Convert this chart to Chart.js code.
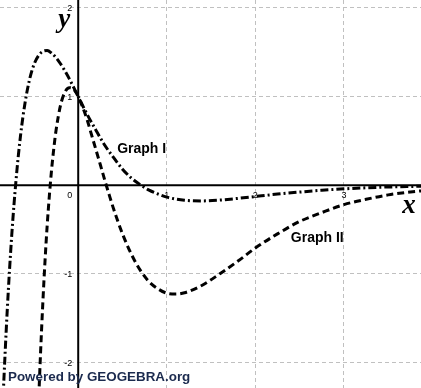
<!DOCTYPE html>
<html>
<head>
<meta charset="utf-8">
<script src="https://cdn.jsdelivr.net/npm/chart.js@4.4.0/dist/chart.umd.min.js"></script>
<style>
html,body{margin:0;padding:0;background:#fff;}
#wrap{width:421px;height:388px;}
</style>
</head>
<body>
<div id="wrap"><canvas id="c" width="421" height="388"></canvas></div>
<script>
// Graph I (dash-dot)
const xs1 = [-0.87,-0.85,-0.8,-0.75,-0.7,-0.65,-0.6,-0.55,-0.5,-0.45,-0.4,-0.35,-0.3,-0.25,-0.2,-0.15,-0.1,-0.05,0,0.1,0.2,0.3,0.4,0.5,0.6,0.7,0.8,0.9,1.0,1.2,1.4,1.6,1.8,2.0,2.25,2.5,2.75,3.0,3.25,3.5,3.75,3.9];
const ys1 = [-2.93,-2.44,-1.39,-0.56,0.08,0.57,0.93,1.19,1.36,1.46,1.51,1.52,1.49,1.44,1.37,1.29,1.20,1.10,1.0,0.80,0.62,0.45,0.31,0.18,0.08,0.005,-0.057,-0.10,-0.135,-0.171,-0.178,-0.168,-0.150,-0.128,-0.101,-0.078,-0.058,-0.042,-0.030,-0.021,-0.015,-0.012];
// Graph II (dashed)
const xs2 = [-0.45,-0.425,-0.4,-0.375,-0.35,-0.325,-0.3,-0.275,-0.25,-0.2,-0.15,-0.1,-0.05,0,0.05,0.1,0.15,0.2,0.25,0.3,0.35,0.4,0.5,0.6,0.7,0.8,0.9,1.0,1.1,1.2,1.4,1.6,1.8,2.0,2.25,2.5,2.75,3.0,3.25,3.5,3.75,3.9];
const ys2 = [-2.52,-1.89,-1.34,-0.86,-0.45,-0.11,0.18,0.42,0.62,0.90,1.05,1.10,1.08,1.0,0.88,0.74,0.57,0.40,0.23,0.055,-0.11,-0.27,-0.55,-0.78,-0.96,-1.09,-1.17,-1.22,-1.23,-1.215,-1.13,-1.0,-0.86,-0.71,-0.55,-0.41,-0.31,-0.22,-0.16,-0.11,-0.077,-0.062];
const xTicks = [1,2,3];
const yTicks = [-2,-1,1,2];
const xRange = [-0.883, 3.87];
const yRange = [-2.29, 2.09];
const labels = {g1:'Graph I', g2:'Graph II', x:'x', y:'y', credit:'Powered by GEOGEBRA.org'};

const toPts = (xs, ys) => xs.map((x,i)=>({x:x, y:ys[i]}));

const overlay = {
  id:'overlay',
  beforeDatasetsDraw(chart){
    const {ctx, chartArea:a, scales:{x, y}} = chart;
    const x0 = x.getPixelForValue(0), y0 = y.getPixelForValue(0);
    ctx.save();
    ctx.strokeStyle = '#000'; ctx.lineWidth = 2; ctx.setLineDash([]);
    ctx.beginPath(); ctx.moveTo(a.left, y0); ctx.lineTo(a.right, y0); ctx.stroke();
    ctx.beginPath(); ctx.moveTo(x0, a.top); ctx.lineTo(x0, a.bottom); ctx.stroke();
    ctx.restore();
  },
  afterDraw(chart){
    const {ctx, scales:{x, y}} = chart;
    const x0 = x.getPixelForValue(0), y0 = y.getPixelForValue(0);
    ctx.save();
    ctx.fillStyle = '#000';
    ctx.font = '9px "Liberation Sans", Arial, sans-serif';
    ctx.textBaseline = 'middle';
    ctx.textAlign = 'center';
    xTicks.forEach(v => ctx.fillText(String(v), x.getPixelForValue(v), y0 + 10));
    ctx.textAlign = 'right';
    yTicks.forEach(v => ctx.fillText(String(v), x0 - 6, y.getPixelForValue(v) + 1));
    ctx.fillText('0', x0 - 6, y0 + 10);
    // curve labels
    ctx.font = 'bold 14px "Liberation Sans", Arial, sans-serif';
    ctx.textAlign = 'left'; ctx.textBaseline = 'alphabetic';
    ctx.fillText(labels.g1, x.getPixelForValue(0.44), y.getPixelForValue(0.36));
    ctx.fillText(labels.g2, x.getPixelForValue(2.4), y.getPixelForValue(-0.64));
    // axis names
    ctx.font = 'italic bold 27px "Liberation Serif", "Times New Roman", serif';
    ctx.textAlign = 'center';
    ctx.fillText(labels.y, x0 - 14, 27);
    ctx.fillText(labels.x, chart.chartArea.right - 12, y0 + 28);
    // credit
    ctx.font = 'bold 13.4px "Liberation Sans", Arial, sans-serif';
    ctx.fillStyle = '#1b2a4e';
    ctx.textAlign = 'left';
    ctx.fillText(labels.credit, 8, 381);
    ctx.restore();
  }
};

new Chart(document.getElementById('c'), {
  type:'scatter',
  data:{datasets:[
    {label:labels.g1, data:toPts(xs1, ys1), showLine:true, borderColor:'#000', borderWidth:3,
     borderDash:[8,3,2,3], pointRadius:0, cubicInterpolationMode:'monotone', fill:false},
    {label:labels.g2, data:toPts(xs2, ys2), showLine:true, borderColor:'#000', borderWidth:3,
     borderDash:[7,4], pointRadius:0, cubicInterpolationMode:'monotone', fill:false}
  ]},
  options:{
    responsive:false, animation:false, devicePixelRatio:1,
    layout:{padding:0},
    plugins:{legend:{display:false}, tooltip:{enabled:false}},
    scales:{
      x:{type:'linear', min:xRange[0], max:xRange[1],
         ticks:{display:false, stepSize:1},
         afterBuildTicks(s){ s.ticks = xTicks.map(v=>({value:v})); },
         grid:{color:'#c0c0c0', lineWidth:1, drawTicks:false},
         border:{display:false, dash:[4,3]}},
      y:{type:'linear', min:yRange[0], max:yRange[1],
         ticks:{display:false, stepSize:1},
         afterBuildTicks(s){ s.ticks = yTicks.map(v=>({value:v})); },
         grid:{color:'#c0c0c0', lineWidth:1, drawTicks:false},
         border:{display:false, dash:[4,3]}}
    }
  },
  plugins:[overlay]
});
</script>
</body>
</html>
